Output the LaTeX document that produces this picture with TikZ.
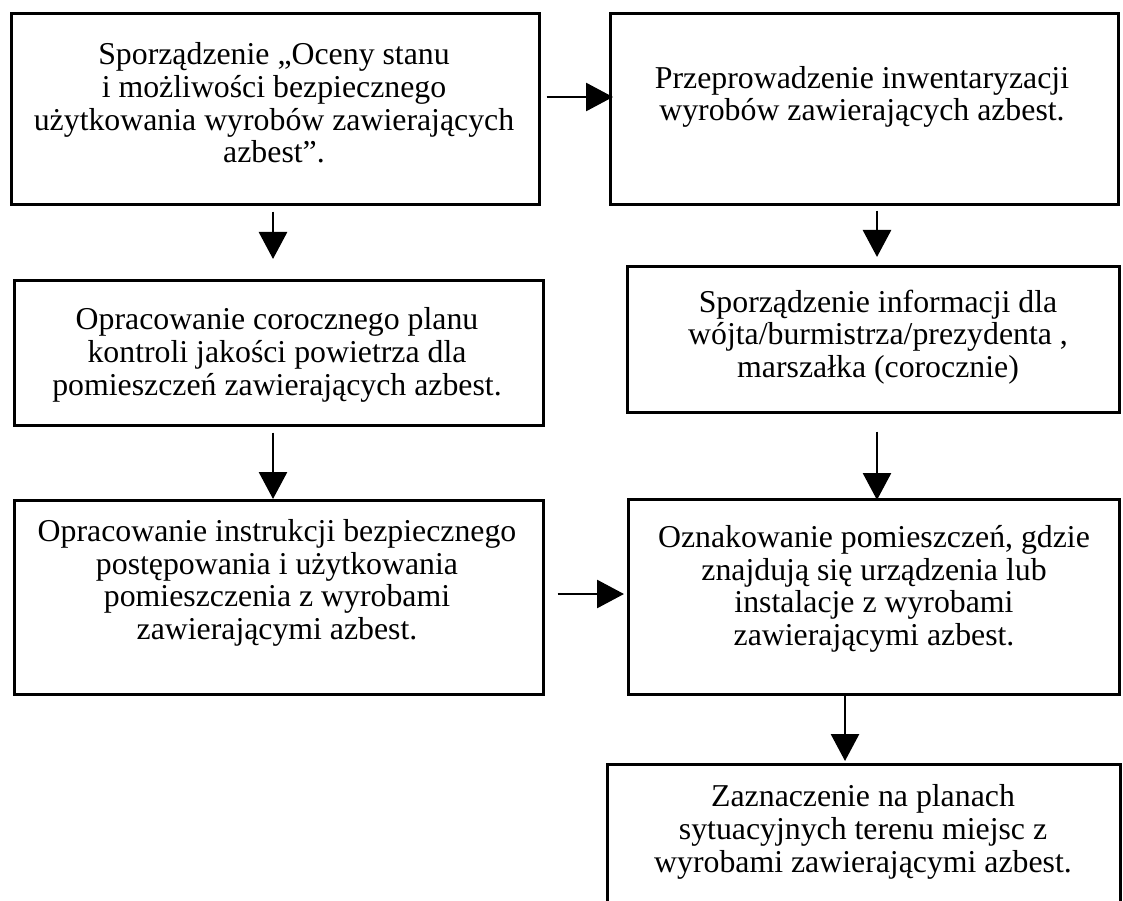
\documentclass[tikz,border=0pt]{standalone}
\usepackage{fontspec}
\setmainfont{Liberation Serif}
\usetikzlibrary{arrows.meta}
\tikzset{
  box/.style={draw=black, line width=2.6pt, rectangle, inner sep=0pt, anchor=north west},
  txt/.style={align=center, inner sep=0pt, font=\fontsize{31.8}{32.7}\selectfont},
  arr/.style={line width=2.8pt, -{Triangle[length=27pt,width=28pt]}},
}
\begin{document}
\begin{tikzpicture}[x=1pt,y=-1pt]
\useasboundingbox (0,0) rectangle (1123,901);
\path[clip] (0,0) rectangle (1123,901);
% boxes
\node[box, minimum width=528pt, minimum height=191pt] (b1) at (10,12) {};
\node[box, minimum width=508pt, minimum height=191pt] (b2) at (609,12) {};
\node[box, minimum width=529pt, minimum height=145pt] (b3) at (13,279) {};
\node[box, minimum width=492pt, minimum height=146pt] (b4) at (626,265) {};
\node[box, minimum width=529pt, minimum height=194pt] (b5) at (13,499) {};
\node[box, minimum width=491pt, minimum height=195pt] (b6) at (627,498) {};
\node[box, minimum width=513pt, minimum height=160pt] (b7) at (606,763) {};
% texts
\node[txt] (t1) at (274,103) {Sporządzenie „Oceny stanu\\i możliwości bezpiecznego\\użytkowania wyrobów zawierających\\azbest”.};
\node[txt] (t2) at (862,97) {Przeprowadzenie inwentaryzacji\\wyrobów zawierających azbest.};
\node[txt] (t3) at (277,355) {Opracowanie corocznego planu\\kontroli jakości powietrza dla\\pomieszczeń zawierających azbest.};
\node[txt] (t4) at (878,337) {Sporządzenie informacji dla\\wójta/burmistrza/prezydenta ,\\marszałka (corocznie)};
\node[txt] (t5) at (277,583) {Opracowanie instrukcji bezpiecznego\\postępowania i użytkowania\\pomieszczenia z wyrobami\\zawierającymi azbest.};
\node[txt] (t6) at (874,589) {Oznakowanie pomieszczeń, gdzie\\znajdują się urządzenia lub\\instalacje z wyrobami\\zawierającymi azbest.};
\node[txt] (t7) at (863,832) {Zaznaczenie na planach\\sytuacyjnych terenu miejsc z\\wyrobami zawierającymi azbest.};
% arrow guide coordinates
\coordinate (xl) at (273,0);
\coordinate (xr) at (877,0);
\coordinate (x67) at (845,0);
\coordinate (y12) at (0,97);
\coordinate (y56) at (0,594);
% arrows
\draw[arr, shorten <=6pt, shorten >=-4pt] (b1.east |- y12) -- (b2.west |- y12);
\draw[arr, shorten <=6pt, shorten >=20pt] (b1.south -| xl) -- (b3.north -| xl);
\draw[arr, shorten <=5pt, shorten >=8pt] (b2.south -| xr) -- (b4.north -| xr);
\draw[arr, shorten <=6pt] (b3.south -| xl) -- (b5.north -| xl);
\draw[arr, shorten <=18pt, shorten >=-2pt] (b4.south -| xr) -- (b6.north -| xr);
\draw[arr, shorten <=13pt, shorten >=3pt] (b5.east |- y56) -- (b6.west |- y56);
\draw[arr, shorten >=2pt] (b6.south -| x67) -- (b7.north -| x67);
\end{tikzpicture}
\end{document}
